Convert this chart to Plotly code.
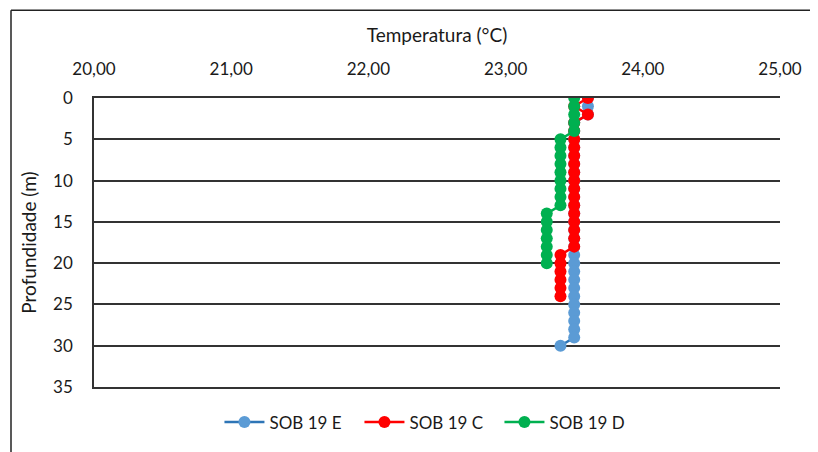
import plotly.graph_objects as go

# Data
depth_E = list(range(0, 31))
temp_E = [23.6, 23.6, 23.6] + [23.5] * 27 + [23.4]

depth_C = list(range(0, 25))
temp_C = [23.6, 23.5, 23.6] + [23.5] * 16 + [23.4] * 6

depth_D = list(range(0, 21))
temp_D = [23.5] * 5 + [23.4] * 9 + [23.3] * 7

series_names = ["SOB 19 E", "SOB 19 C", "SOB 19 D"]
x_ticks = [20, 21, 22, 23, 24, 25]
y_ticks = [0, 5, 10, 15, 20, 25, 30, 35]

FONT = "Lato, Open Sans, sans-serif"

fig = go.Figure()
fig.add_trace(go.Scatter(x=temp_E, y=depth_E, name=series_names[0], mode="lines+markers",
                         line=dict(color="#2E75B6", width=2.5),
                         marker=dict(color="#5B9BD5", size=12)))
fig.add_trace(go.Scatter(x=temp_C, y=depth_C, name=series_names[1], mode="lines+markers",
                         line=dict(color="#FF0000", width=2.5),
                         marker=dict(color="#FF0000", size=12)))
fig.add_trace(go.Scatter(x=temp_D, y=depth_D, name=series_names[2], mode="lines+markers",
                         line=dict(color="#00B050", width=2.5),
                         marker=dict(color="#00B050", size=12)))

PH = 293  # plot height in px
PW = 686  # plot width in px
# page body has an 8px margin, so the figure is offset by 8px
fig.update_layout(
    width=810, height=444,
    margin=dict(l=86, r=38, t=90, b=444 - 90 - PH),
    paper_bgcolor="white", plot_bgcolor="white",
    font=dict(family=FONT, size=17, color="#1a1a1a"),
    separators=",.",
    showlegend=True,
    legend=dict(orientation="h", x=0.489, xanchor="center", y=-36 / PH, yanchor="middle",
                font=dict(size=17), itemwidth=40, traceorder="normal",
                entrywidth=85, entrywidthmode="pixels"),
    xaxis=dict(side="top", range=[20, 25], tickvals=x_ticks, tickformat=".2f",
               showgrid=False, zeroline=False, showline=True, mirror=True,
               linecolor="#333333", linewidth=1.6,
               ticks="", ticklabelstandoff=14,
               title=dict(text="Temperatura (°C)", standoff=11, font=dict(size=19))),
    yaxis=dict(range=[35, 0], tickvals=y_ticks, showgrid=True, gridcolor="#333333", gridwidth=1.6,
               zeroline=False, showline=True, linecolor="#333333", linewidth=1.6,
               ticks="", ticklabelstandoff=16,
               title=dict(text="Profundidade (m)", standoff=11, font=dict(size=19))),
)

# outer chart border: top and left edges only (others run off the picture)
bx0 = (3 - 86) / PW
bx1 = (840 - 86) / PW
by0 = -(480 - 90 - PH) / PH
by1 = (90 - 1) / PH + 1
border = dict(color="#222222", width=1.5)
fig.add_shape(type="line", xref="paper", yref="paper", x0=bx0, x1=bx1, y0=by1, y1=by1,
              line=border, layer="below")
fig.add_shape(type="line", xref="paper", yref="paper", x0=bx0, x1=bx0, y0=by0, y1=by1,
              line=border, layer="below")

fig.write_html("out.html", config={"displayModeBar": False},
               post_script="document.documentElement.style.overflow='hidden';"
                           "document.body.style.overflow='hidden';")
